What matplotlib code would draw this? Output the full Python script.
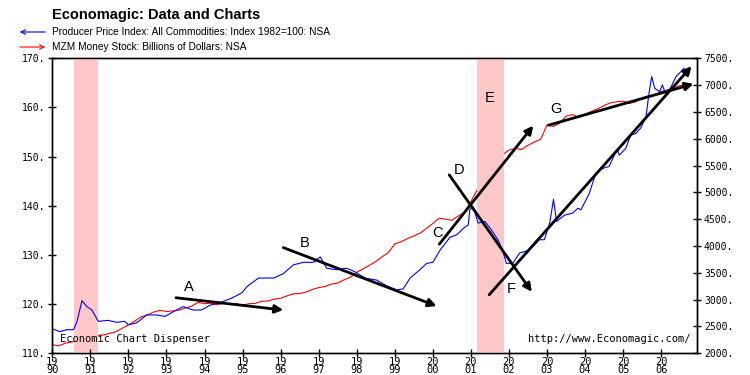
import numpy as np
import matplotlib
matplotlib.use('Agg')
import matplotlib.pyplot as plt

# Producer Price Index, all commodities (left axis)
ppi_year = [1990.03, 1990.2, 1990.38, 1990.56, 1990.65, 1990.78, 1990.91, 1991.04, 1991.21,
            1991.47, 1991.69, 1991.9, 1992.0, 1992.22, 1992.48, 1992.74, 1992.96, 1993.26,
            1993.44, 1993.7, 1993.92, 1994.15, 1994.41, 1994.71, 1994.98, 1995.12, 1995.42,
            1995.82, 1996.07, 1996.34, 1996.6, 1996.86, 1997.04, 1997.21, 1997.47, 1997.73,
            1997.95, 1998.21, 1998.52, 1998.79, 1999.05, 1999.22, 1999.4, 1999.66, 1999.84,
            2000.0, 2000.19, 2000.45, 2000.63, 2000.8, 2000.93, 2000.97, 2001.06, 2001.19,
            2001.37, 2001.54, 2001.71, 2001.84, 2001.93, 2002.1, 2002.28, 2002.54, 2002.8,
            2002.93, 2003.07, 2003.17, 2003.25, 2003.46, 2003.67, 2003.81, 2003.89, 2004.11,
            2004.28, 2004.46, 2004.63, 2004.77, 2004.85, 2004.9, 2005.07, 2005.2, 2005.33,
            2005.46, 2005.6, 2005.68, 2005.75, 2005.83, 2005.96, 2006.03, 2006.13, 2006.26,
            2006.39, 2006.52, 2006.6]
ppi = [114.9, 114.4, 114.8, 114.8, 116.5, 120.7, 119.5, 118.8, 116.5,
       116.7, 116.3, 116.5, 115.8, 116.2, 117.8, 117.8, 117.5, 118.8,
       119.5, 118.8, 118.8, 119.8, 120.3, 121.2, 122.3, 123.6, 125.3,
       125.3, 126.2, 128.0, 128.5, 128.5, 129.6, 127.3, 127.0, 127.3,
       126.6, 125.3, 124.9, 123.7, 122.9, 123.1, 125.3, 127.0, 128.3,
       128.5, 131.0, 133.6, 134.1, 135.4, 136.1, 139.2, 139.8, 136.5,
       136.8, 135.1, 133.1, 130.7, 128.3, 128.3, 130.4, 131.0, 133.1,
       133.1, 136.5, 141.3, 136.8, 138.1, 138.5, 139.5, 139.2, 142.5,
       146.6, 147.6, 148.0, 150.3, 151.4, 150.3, 151.7, 154.4, 154.7,
       155.8, 158.1, 162.9, 166.3, 163.9, 163.2, 164.6, 162.5, 164.2,
       166.3, 167.3, 168.0]

# MZM money stock, billions of dollars (right axis), every two months from 1990
mzm = [2160, 2140, 2185, 2210, 2230, 2270, 2285, 2325, 2340, 2370, 2400, 2465,
       2530, 2600, 2680, 2715, 2770, 2800, 2780, 2790, 2805, 2845, 2880, 2950,
       2925, 2935, 2905, 2935, 2915, 2925, 2895, 2925, 2930, 2970, 2975, 3010,
       3025, 3070, 3110, 3115, 3140, 3190, 3225, 3245, 3290, 3310, 3370, 3420,
       3510, 3575, 3640, 3710, 3800, 3880, 4040, 4080, 4140, 4190, 4240, 4330,
       4420, 4520, 4500, 4480, 4560, 4630, 4830, 5050, 5180, 5270, 5480, 5700,
       5790, 5820, 5800, 5880, 5940, 5990, 6260, 6230, 6290, 6420, 6450, 6400,
       6460, 6510, 6560, 6620, 6670, 6690, 6700, 6660, 6690, 6760, 6800, 6820,
       6880, 6910, 6960, 6990, 7010]
mzm_year = 1990 + np.arange(len(mzm)) / 6.0

recessions = [(1990.58, 1991.2), (2001.15, 2001.86)]

# trend arrows (start year, start ppi, end year, end ppi)
arrows = [(1993.25, 121.3, 1996.07, 118.8),
          (1996.07, 131.5, 2000.10, 119.6),
          (2000.17, 132.2, 2002.64, 156.3),
          (2000.43, 146.3, 2002.60, 122.5),
          (2001.48, 121.9, 2006.80, 168.4),
          (2003.04, 156.4, 2006.85, 164.8)]
labels = [('A', 1993.60, 123.5), ('B', 1996.64, 132.4), ('C', 2000.12, 134.5),
          ('D', 2000.70, 147.3), ('E', 2001.48, 161.9), ('F', 2002.05, 123.0),
          ('G', 2003.24, 159.6)]

years = np.arange(1990, 2007)

fig = plt.figure(figsize=(7.5, 3.75), dpi=100)
ax = fig.add_axes([0.0697, 0.0579, 0.8596, 0.7866])
ax2 = ax.twinx()

for a, b in recessions:
    ax.axvspan(a, b, color='#ffc8c8', lw=0, zorder=0)

ax2.plot(mzm_year, mzm, color='#ff0000', lw=0.8, zorder=2)
ax.plot(ppi_year, ppi, color='#0000ff', lw=0.8, zorder=3)
ax.set_zorder(ax2.get_zorder() + 1)
ax.patch.set_visible(False)

for x0, y0, x1, y1 in arrows:
    ax.annotate('', xy=(x1, y1), xytext=(x0, y0),
                arrowprops=dict(arrowstyle='-|>', lw=2, color='black',
                                mutation_scale=12, shrinkA=0, shrinkB=0))
for t, x, y in labels:
    ax.text(x, y, t, fontsize=10.5, ha='center', va='center', color='black',
            family='Liberation Sans')

ax.set_xlim(1990, 2006.94)
ax.set_ylim(110, 170)
ax2.set_ylim(2000, 7500)
ax.set_xticks(years)
ax.set_xticklabels(['%s\n%s' % (str(y)[:2], str(y)[2:]) for y in years])
ax.set_yticks(np.arange(110, 171, 10))
ax.set_yticklabels(['%d.' % v for v in range(110, 171, 10)])
ax2.set_yticks(np.arange(2000, 7501, 500))
ax2.set_yticklabels(['%d.' % v for v in range(2000, 7501, 500)])

mono = 'DejaVu Sans Mono'
for a in (ax, ax2):
    a.tick_params(direction='inout', length=6, width=1, labelsize=7, pad=2)
    for lab in a.get_yticklabels():
        lab.set_family(mono)
    for s in a.spines.values():
        s.set_linewidth(1)
ax.tick_params(axis='x', labelsize=7.5, pad=0)
for lab in ax.get_xticklabels():
    lab.set_family(mono)
    lab.set_linespacing(0.72)

ax.text(0.012, 0.03, 'Economic Chart Dispenser', transform=ax.transAxes,
        family=mono, fontsize=7.5, ha='left', va='bottom')
ax.text(0.99, 0.03, 'http://www.Economagic.com/', transform=ax.transAxes,
        family=mono, fontsize=7.5, ha='right', va='bottom')

fig.text(52 / 750, 1 - 15 / 375, 'Economagic: Data and Charts', fontsize=10.5,
         fontweight='bold', family='Liberation Sans', ha='left', va='center')
fig.text(52 / 750, 1 - 32 / 375, 'Producer Price Index: All Commodities: Index 1982=100: NSA',
         fontsize=7.3, family='Liberation Sans', ha='left', va='center')
fig.text(52 / 750, 1 - 47 / 375, 'MZM Money Stock: Billions of Dollars: NSA',
         fontsize=7.3, family='Liberation Sans', ha='left', va='center')
fig.patches.append(matplotlib.patches.FancyArrowPatch(
    (48 / 750, 1 - 32 / 375), (17 / 750, 1 - 32 / 375), transform=fig.transFigure,
    arrowstyle='->', color='#0000ff', lw=0.8, mutation_scale=8))
fig.patches.append(matplotlib.patches.FancyArrowPatch(
    (17 / 750, 1 - 47 / 375), (48 / 750, 1 - 47 / 375), transform=fig.transFigure,
    arrowstyle='->', color='#ff0000', lw=0.8, mutation_scale=8))

fig.savefig('out.png', dpi=100)
